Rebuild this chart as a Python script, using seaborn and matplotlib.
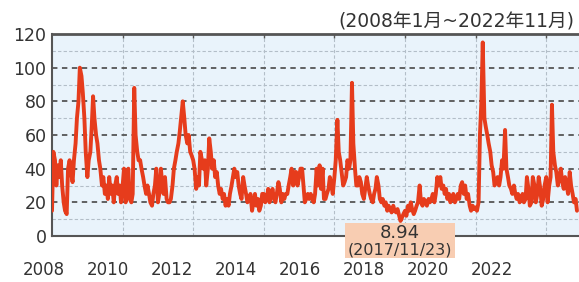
import pandas as pd
import matplotlib
matplotlib.use("Agg")
import matplotlib.pyplot as plt
from matplotlib.patches import Rectangle
import seaborn as sns

sns.set_style("white")
plt.rcParams['font.family'] = ['DejaVu Sans', 'Noto Sans CJK JP']

# Nikkei VI, two readings per month (1st / mid-month)
vi_2008 = [15, 50, 45, 30, 42, 35, 45, 30, 20, 15, 13, 40, 45, 38, 32, 45, 55, 70, 80, 100, 95, 85, 70, 50]
vi_2009 = [35, 45, 50, 65, 83, 70, 60, 55, 45, 40, 30, 35, 25, 30, 22, 35, 25, 30, 20, 30, 35, 25, 30, 20]
vi_2010 = [30, 40, 20, 35, 40, 22, 20, 25, 88, 60, 50, 45, 45, 40, 35, 30, 25, 30, 25, 20, 18, 25, 30, 40]
vi_2011 = [20, 25, 40, 30, 25, 35, 22, 20, 20, 22, 30, 40, 45, 50, 55, 62, 72, 80, 70, 60, 55, 60, 50, 48]
vi_2012 = [45, 40, 28, 35, 30, 50, 45, 40, 45, 30, 40, 58, 50, 40, 45, 35, 38, 30, 25, 28, 22, 25, 18, 22]
vi_2013 = [18, 25, 30, 35, 40, 35, 38, 30, 25, 22, 35, 30, 25, 20, 22, 25, 15, 20, 25, 18, 22, 15, 18, 25]
vi_2014 = [25, 20, 22, 28, 20, 25, 28, 22, 20, 25, 32, 28, 20, 25, 22, 25, 25, 30, 35, 40, 30, 38, 38, 30]
vi_2015 = [35, 40, 40, 30, 20, 22, 25, 22, 25, 22, 20, 25, 40, 30, 42, 28, 40, 22, 22, 25, 28, 35, 30, 25]
vi_2016 = [35, 45, 69, 50, 45, 38, 30, 32, 35, 45, 40, 45, 91, 55, 40, 30, 30, 35, 32, 25, 22, 28, 35, 30]
vi_2017 = [25, 22, 20, 25, 28, 35, 30, 22, 20, 22, 18, 20, 15, 18, 16, 14, 18, 15, 14, 16, 12, 8.94, 11, 13]
vi_2018 = [15, 12, 18, 15, 20, 16, 13, 15, 18, 20, 30, 20, 18, 22, 20, 18, 22, 20, 22, 25, 20, 25, 35, 30]
vi_2019 = [35, 28, 30, 25, 28, 22, 25, 20, 22, 25, 20, 22, 25, 22, 30, 32, 25, 30, 22, 25, 18, 15, 18, 16]
vi_2020 = [17, 15, 20, 60, 80, 115, 70, 65, 60, 55, 50, 42, 38, 30, 32, 35, 30, 35, 45, 40, 63, 40, 35, 30]
vi_2021 = [28, 25, 30, 25, 22, 25, 20, 22, 25, 20, 22, 35, 28, 18, 20, 35, 30, 20, 25, 35, 28, 18, 22, 30]
vi_2022 = [35, 20, 30, 35, 78, 50, 42, 38, 30, 35, 40, 32, 28, 35, 30, 25, 38, 30, 25, 20, 22, 15]

vi = (vi_2008 + vi_2009 + vi_2010 + vi_2011 + vi_2012 + vi_2013 + vi_2014 + vi_2015
      + vi_2016 + vi_2017 + vi_2018 + vi_2019 + vi_2020 + vi_2021 + vi_2022)

y_ticks = [0, 20, 40, 60, 80, 100, 120]
y_minor = [10, 30, 50, 70, 90, 110]
grid_years = [2010, 2012, 2014, 2016, 2018, 2020, 2022]
year_labels = ["2008", "2010", "2012", "2014", "2016", "2018", "2020", "2022"]
period_text = "(2008年1月~2022年11月)"
min_date_text = "(2017/11/23)"

dates = pd.date_range("2008-01-01", periods=len(vi), freq="SMS")
df = pd.DataFrame({"date": dates, "vi": vi})

W, H = 579, 282
fig = plt.figure(figsize=(W / 100, H / 100), dpi=100)
ax = fig.add_axes([52 / W, 1 - 236 / H, 527 / W, 202 / H])
ax.set_facecolor("#e9f3fb")

sns.lineplot(data=df, x="date", y="vi", ax=ax, color="#e63c1c", lw=2.8, zorder=3)

ax.set_xlim(pd.Timestamp("2008-01-01"), pd.Timestamp("2022-12-06"))
ax.set_ylim(0, 120)
ax.set_xlabel("")
ax.set_ylabel("")

ax.set_yticks(y_ticks)
ax.set_yticks(y_minor, minor=True)
ax.set_yticklabels([str(v) for v in y_ticks], fontsize=12.5, color="#333333")
ax.set_xticks([pd.Timestamp(f"{y}-01-01") for y in grid_years])
ax.set_xticklabels([])
ax.set_axisbelow(True)

ax.grid(axis="y", which="major", color="#555555", ls=(0, (3, 2.5)), lw=1.3)
ax.grid(axis="y", which="minor", color="#b3bec8", ls=(0, (3, 2)), lw=0.8)
ax.grid(axis="x", which="major", color="#b3bec8", ls=(0, (3, 2)), lw=0.8)

ax.tick_params(axis="y", which="both", length=0, pad=4)
ax.tick_params(axis="x", which="major", direction="in", length=3, top=True,
               color="#555555", width=1)

for side in ["left", "bottom", "top"]:
    ax.spines[side].set_color("#555555")
    ax.spines[side].set_linewidth(1.5)
ax.spines["top"].set_linewidth(2)
ax.spines["right"].set_visible(False)

# year labels as laid out in the original
for i, lab in enumerate(year_labels):
    fig.text((44 + i * 64) / W, 1 - 270 / H, lab, ha="center", va="center",
             fontsize=12, color="#333333")

fig.text(574 / W, 1 - 22 / H, period_text, ha="right", va="center",
         fontsize=13.5, color="#333333")

# minimum label
min_val = df["vi"].min()
fig.add_artist(Rectangle((345 / W, 1 - 258 / H), 110 / W, 35 / H,
                         transform=fig.transFigure, fc="#f8cdb2", ec="none", zorder=5))
fig.text(400 / W, 1 - 233 / H, f"{min_val:.2f}", ha="center", va="center",
         fontsize=13, color="#333333", zorder=6)
fig.text(400 / W, 1 - 250 / H, min_date_text, ha="center", va="center",
         fontsize=11.5, color="#333333", zorder=6)

fig.savefig("out.png", dpi=100)
